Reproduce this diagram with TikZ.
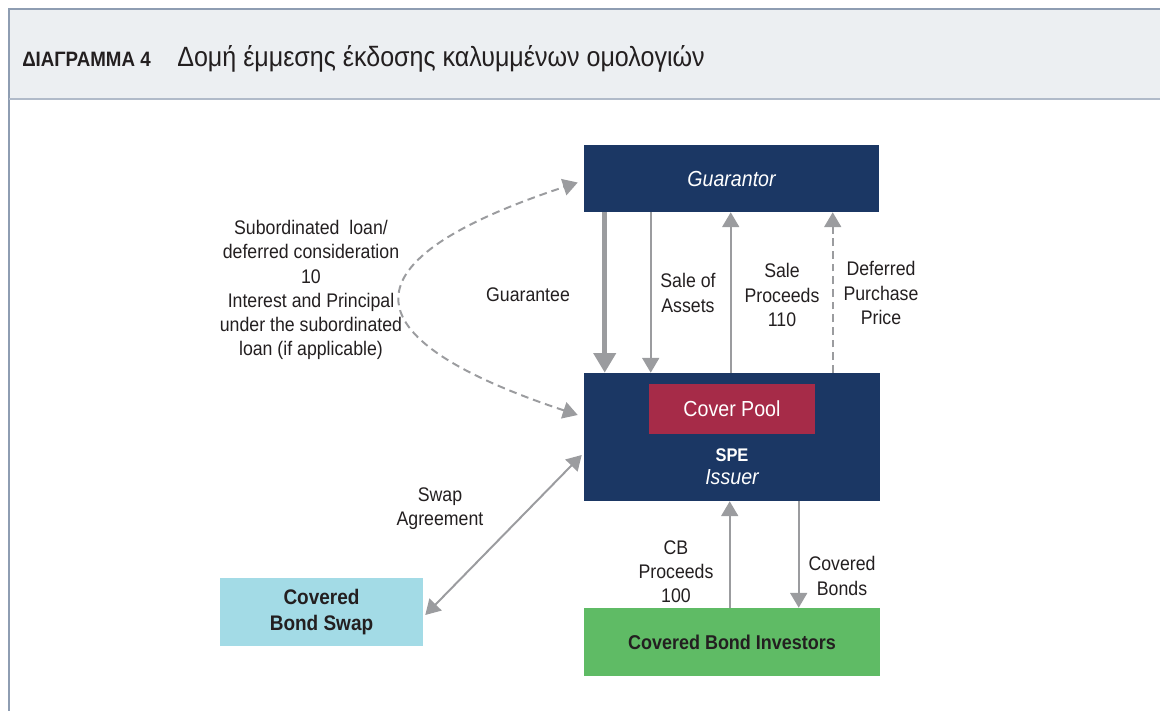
\documentclass[tikz,border=0pt]{standalone}
\usepackage{fontspec}
\setmainfont[FakeStretch=0.9]{Liberation Sans}
\usepackage{tikz}
\usetikzlibrary{arrows.meta}
\usetikzlibrary{calc}

\definecolor{navy}{HTML}{1B3764}
\definecolor{poolred}{HTML}{A62B48}
\definecolor{invgreen}{HTML}{5FBB65}
\definecolor{swapblue}{HTML}{A3DBE6}
\definecolor{arrgray}{HTML}{9B9C9F}
\definecolor{headbg}{HTML}{ECEFF2}
\definecolor{framecol}{HTML}{8E9DB2}
\definecolor{ink}{HTML}{231F20}

\def\px{0.025cm}
\tikzset{
  box/.style={inner sep=0pt, align=center},
  lbl/.style={text=ink, align=center, font=\fontsize{14}{17.2}\selectfont},
  arr/.style={draw=arrgray, line width=1.4pt, ->},
  thickarr/.style={draw=arrgray, line width=3.5pt, -{Triangle[width=15.5pt,length=14pt]}},
}

\begin{document}
\begin{tikzpicture}[x=0.025cm, y=-0.025cm, >={Triangle[width=12pt,length=10.5pt]}]
    \useasboundingbox (0,0) rectangle (1160,711);
    % header band
    \fill[headbg] (9,9) rectangle (1160,99);
    \draw[framecol, line width=1.5pt] (1160,9) -- (9,9) -- (9,711);
    \draw[framecol!70, line width=1.5pt] (9,99) -- (1160,99);
    \node[anchor=base west, inner sep=0pt, text=ink, font=\fontsize{14.8}{17}\selectfont\bfseries] (ttlnum) at (22,66) {ΔΙΑΓΡΑΜΜΑ 4};
    \node[anchor=base west, inner sep=0pt, text=ink, font=\fontsize{19.8}{23}\selectfont] (ttl) at (177,66) {Δομή έμμεσης έκδοσης καλυμμένων ομολογιών};

    % boxes
    \node[box, fill=navy, text=white, minimum width=295*\px, minimum height=67*\px, font=\fontsize{15.5}{18}\selectfont\itshape] (guar) at (731.5,178.5) {Guarantor};
    \node[box, fill=navy, minimum width=296*\px, minimum height=128*\px] (spe) at (732,437) {};
    \node[box, fill=poolred, text=white, minimum width=166*\px, minimum height=50*\px, font=\fontsize{15.5}{18}\selectfont] (pool) at (732,409) {Cover Pool};
    \node[box, text=white, font=\fontsize{13}{16.5}\selectfont] (spelbl) at (732,467) {\textbf{SPE}\\{\fontsize{15.5}{16.5}\selectfont\itshape Issuer}};
    \node[box, fill=invgreen, text=ink, minimum width=296*\px, minimum height=68*\px, font=\fontsize{14.2}{16}\selectfont\bfseries] (inv) at (732,642) {Covered Bond Investors};
    \node[box, fill=swapblue, text=ink, minimum width=203*\px, minimum height=68*\px, font=\fontsize{15}{19}\selectfont\bfseries] (swap) at (321.5,612) {Covered\\Bond Swap};

    % flows between guarantor and SPE
    \draw[thickarr] ($(guar.south west)+(21,0)$) -- ($(spe.north west)+(21,0)$);
    \draw[arr] ($(guar.south west)+(67,0)$) -- ($(spe.north west)+(67,0)$);
    \draw[arr] ($(spe.north west)+(147,0)$) -- ($(guar.south west)+(147,0)$);
    \draw[arr, dashed, dash pattern=on 5.5pt off 3.5pt] ($(spe.north west)+(249,0)$) -- ($(guar.south west)+(249,0)$);
    \draw[arr, <->, dash pattern=on 5.5pt off 3.5pt] ($(spe.west)+(-6,-22)$) .. controls (343,337) and (343,260) .. ($(guar.west)+(-6,4)$);
    % swap and investors
    \draw[arr, <->] ($(swap.east)+(2,3)$) -- ($(spe.west)+(-2,18)$);
    \draw[arr] ($(inv.north west)+(146,0)$) -- ($(spe.south west)+(146,0)$);
    \draw[arr] ($(spe.south west)+(215,0)$) -- ($(inv.north west)+(215,0)$);

    % labels
    \node[lbl] (subloan) at (311,290) {Subordinated\ \ loan/\\deferred consideration\\10\\Interest and Principal\\under the subordinated\\loan (if applicable)};
    \node[lbl] (guarantee) at (528,295) {Guarantee};
    \node[lbl] (saleass) at (688,293) {Sale of\\Assets};
    \node[lbl] (saleproc) at (782,295) {Sale\\Proceeds\\110};
    \node[lbl] (defprice) at (881,293) {Deferred\\Purchase\\Price};
    \node[lbl] (swapagr) at (440,509) {Swap\\Agreement};
    \node[lbl] (cbproc) at (676,572) {CB\\Proceeds\\100};
    \node[lbl] (covbonds) at (842,576) {Covered\\Bonds};
\end{tikzpicture}
\end{document}
